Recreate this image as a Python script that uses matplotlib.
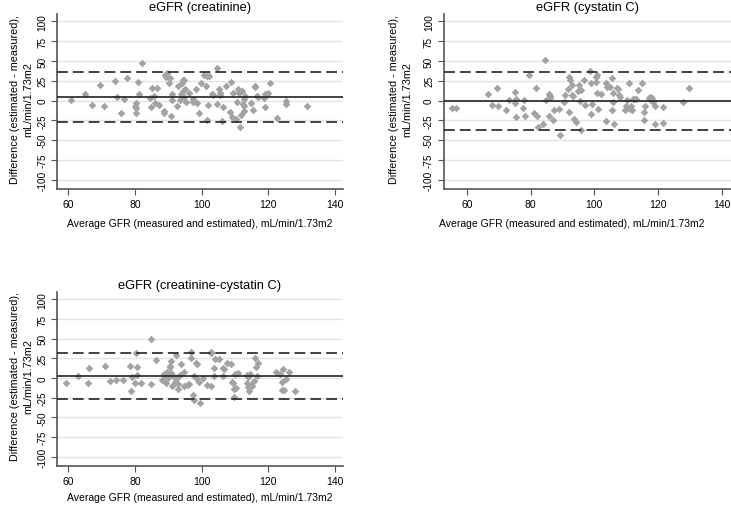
import matplotlib.pyplot as plt

plt.rcParams['font.family'] = ['Liberation Sans', 'DejaVu Sans']
plt.rcParams['axes.unicode_minus'] = False

# eGFR (creatinine): average GFR vs difference
x_cr = [60.7, 65.1, 67.2, 69.6, 70.7, 73.9, 74.5, 75.9, 76.7, 77.6,
        80.0, 80.2, 80.4, 80.3, 80.9, 81.3, 82.1, 84.4, 84.8, 85.1,
        85.6, 85.9, 86.7, 87.1, 88.7, 88.6, 89.0, 89.2, 89.5, 90.2,
        90.6, 90.8, 91.0, 91.2, 92.6, 92.9, 93.5, 93.8, 94.0, 94.3,
        94.4, 94.6, 94.8, 95.1, 95.2, 96.2, 97.3, 97.5, 98.3, 98.6,
        99.3, 99.9, 100.8, 101.4, 101.5, 101.6, 102.0, 102.1, 103.1, 103.5,
        104.6, 104.6, 105.1, 105.4, 105.6, 106.2, 106.5, 107.3, 108.4, 108.8,
        109.1, 109.3, 110.2, 110.5, 110.9, 111.2, 111.3, 111.6, 111.8, 112.1,
        112.3, 112.8, 112.8, 113.1, 112.8, 114.8, 115.5, 115.9, 116.0, 116.5,
        117.0, 118.8, 118.9, 119.0, 119.5, 119.9, 120.6, 122.6, 125.3, 125.3,
        131.7]
d_cr = [0.9, 7.8, -5.6, 20.3, -6.9, 24.6, 3.9, -15.9, 1.7, 28.9,
        -6.9, -9.0, -2.6, -15.9, 23.7, 8.2, 47.4, 3.4, -7.8, 16.4,
        6.0, -2.6, 16.4, -5.2, -12.9, -15.1, 32.8, 29.7, 35.3, 22.4,
        28.0, -19.4, 7.8, 0.9, -6.5, 18.5, 1.3, 7.8, 22.4, 25.4,
        11.6, 4.7, 26.3, 14.2, -1.3, 9.9, 1.7, -2.2, 14.7, -3.4,
        -15.5, 22.8, 32.8, 18.5, 31.5, -25.0, -5.2, 31.5, 8.2, 6.5,
        41.4, -4.3, 14.2, 9.9, 6.9, -26.3, -7.8, 18.5, -14.2, 23.3,
        -20.7, 9.5, -23.3, -1.7, 14.7, 9.5, 12.1, -33.6, -18.1, 11.6,
        -4.3, 2.2, -13.4, 5.6, -6.5, -3.4, -12.1, 19.0, 17.2, 5.6,
        3.9, 3.0, -8.2, 8.6, 7.8, 9.9, 22.4, -22.4, 0.0, -4.7,
        -6.5]

# eGFR (cystatin C)
x_cys = [55.3, 56.6, 66.5, 67.8, 69.4, 69.6, 72.2, 73.1, 75.1, 75.2,
         75.3, 75.5, 77.6, 78.0, 78.2, 79.6, 81.2, 81.8, 82.0, 82.3,
         83.8, 84.6, 84.7, 85.8, 86.0, 85.9, 86.2, 87.0, 87.3, 89.0,
         89.2, 90.5, 90.8, 91.6, 92.1, 92.1, 92.3, 92.9, 93.2, 93.1,
         93.6, 94.2, 95.0, 95.2, 95.7, 95.5, 95.9, 96.7, 97.2, 98.6,
         98.9, 99.1, 99.3, 100.5, 100.5, 100.8, 100.9, 101.2, 102.1, 103.6,
         103.8, 103.9, 104.9, 105.4, 105.5, 105.8, 105.9, 106.2, 107.1, 107.3,
         107.7, 108.1, 109.6, 109.9, 110.2, 110.9, 111.1, 111.6, 111.8, 112.2,
         112.4, 113.0, 113.8, 114.9, 115.5, 115.7, 115.9, 117.0, 117.4, 117.8,
         118.0, 118.2, 118.4, 119.0, 119.1, 121.5, 121.7, 127.8, 129.7]
d_cys = [-9.9, -9.9, 8.2, -5.6, 15.9, -7.3, -11.6, 0.9, 10.8, -3.4,
         -21.1, 1.7, -9.0, 0.9, -19.4, 31.9, -15.1, 15.9, -19.4, -33.6,
         -29.3, 50.9, 0.9, 8.2, 5.6, -19.8, 3.4, -24.6, -12.1, -10.8,
         -43.5, -1.7, 6.5, 15.1, -14.2, 29.3, 25.4, 6.5, 5.2, 20.3,
         -23.7, -26.7, 11.6, 19.8, 12.9, -0.9, -36.6, 25.9, -5.6, 37.5,
         22.0, -16.4, -4.7, 23.7, 29.7, 31.9, 9.0, -10.8, 8.6, -25.4,
         22.0, 17.2, 17.7, 28.0, -12.1, 9.9, -1.3, -29.7, 15.9, 15.1,
         6.5, 3.9, -12.1, -7.3, 0.9, 21.6, -10.8, -7.3, -12.1, 2.2,
         2.6, 2.2, 13.8, 21.6, -13.8, -25.0, -7.3, 3.4, 4.7, 1.3,
         3.0, 0.0, -2.2, -7.3, -30.2, -28.0, -7.8, -2.2, 15.9]

# eGFR (creatinine-cystatin C)
x_cc = [59.3, 62.9, 65.9, 66.2, 71.1, 72.6, 74.2, 76.4, 78.5, 78.8,
        79.2, 80.0, 80.4, 80.6, 80.6, 81.9, 84.7, 84.7, 86.4, 88.1,
        88.7, 88.8, 89.2, 89.5, 89.9, 90.4, 90.5, 90.7, 90.9, 91.0,
        91.3, 92.0, 92.3, 92.5, 92.9, 93.0, 93.6, 93.9, 94.8, 94.8,
        95.6, 96.1, 96.7, 96.7, 97.5, 97.6, 97.7, 98.2, 98.4, 98.7,
        99.3, 99.4, 100.5, 101.5, 102.7, 102.7, 102.9, 103.6, 103.8, 104.1,
        105.2, 106.4, 106.6, 106.4, 107.6, 108.7, 109.0, 109.3, 109.7, 109.8,
        110.1, 110.2, 110.8, 113.5, 113.6, 113.9, 114.0, 114.2, 114.5, 114.7,
        115.2, 115.7, 116.1, 116.4, 116.5, 117.0, 122.4, 123.5, 124.0, 124.0,
        124.3, 124.7, 125.4, 126.1, 127.9]
d_cc = [-6.5, 2.2, -6.0, 12.9, 15.5, -3.4, -3.0, -2.2, 15.5, -16.4,
        0.9, -6.0, 31.9, 13.8, 3.9, -6.5, 49.6, -8.2, 23.3, -3.0,
        3.9, 5.6, -6.5, 8.2, 0.0, 14.2, 15.9, 21.1, 6.0, -10.3,
        3.0, -5.2, 28.9, 0.0, -7.8, -13.4, 3.4, 17.7, 7.3, -9.5,
        -9.0, -7.8, 32.8, 25.0, -21.1, -28.4, 2.2, 0.4, 19.0, 17.2,
        -5.6, -31.5, 0.0, -9.0, -9.5, 33.6, 31.9, 12.9, 3.0, 24.1,
        24.1, 12.9, 12.1, 2.2, 19.0, 18.1, -4.7, -6.5, -24.6, -14.2,
        5.2, -12.1, 6.5, -6.5, 3.9, 1.3, -11.2, -15.9, 5.2, -9.0,
        -10.3, -4.3, 25.0, 13.8, 2.2, 19.4, 7.3, 5.2, -5.2, -15.1,
        11.6, -15.1, -1.3, 7.3, -15.9]

# mean difference and limits of agreement
mean_d = [4.7, 0.0, 2.6]
upper = [36.1, 36.6, 31.9]
lower = [-26.7, -36.6, -26.7]

titles = ['eGFR (creatinine)', 'eGFR (cystatin C)', 'eGFR (creatinine-cystatin C)']
xs = [x_cr, x_cys, x_cc]
ds = [d_cr, d_cys, d_cc]

fig = plt.figure(figsize=(7.31, 5.10), dpi=100)
rects = [[0.078, 0.627, 0.391, 0.343],
         [0.607, 0.627, 0.393, 0.343],
         [0.078, 0.084, 0.391, 0.341]]
xlims = [(56.6, 142.4), (52.7, 142.9), (56.6, 142.4)]
xlab_pos = [(0.5, -0.166), (0.446, -0.166), (0.5, -0.15)]
ylab_x = [-0.082, -0.110, -0.082]

for i in range(3):
    ax = fig.add_axes(rects[i])
    for yv in range(-100, 101, 25):
        ax.axhline(yv, color='#e3e3e3', lw=1, zorder=0)
    ax.scatter(xs[i], ds[i], marker='D', s=15, color='#a3a3a3', lw=0, zorder=2)
    ax.axhline(mean_d[i], color='#222222', lw=1.2, zorder=3)
    ax.axhline(upper[i], color='#222222', lw=1.2, ls=(0, (6.5, 3)), zorder=3)
    ax.axhline(lower[i], color='#222222', lw=1.2, ls=(0, (6.5, 3)), zorder=3)

    ax.set_xlim(xlims[i])
    ax.set_ylim(-112, 109)
    ax.set_xticks(range(60, 141, 20))
    ax.set_yticks(range(-100, 101, 25))
    ax.tick_params(axis='y', labelrotation=90, labelsize=7.2, length=4, pad=3, color='#555555')
    ax.tick_params(axis='x', labelsize=7.5, length=4, pad=3, color='#555555')
    for lab in ax.get_yticklabels():
        lab.set_va('center')
    ax.spines['top'].set_visible(False)
    ax.spines['right'].set_visible(False)
    ax.spines['left'].set_color('#555555')
    ax.spines['bottom'].set_color('#555555')
    ax.spines['left'].set_linewidth(1.2)
    ax.spines['bottom'].set_linewidth(1.2)

    ax.set_title(titles[i], fontsize=9.3, pad=3)
    ax.set_xlabel('Average GFR (measured and estimated), mL/min/1.73m2', fontsize=7.5)
    ax.xaxis.set_label_coords(*xlab_pos[i])
    ax.set_ylabel('Difference (estimated - measured),\nmL/min/1.73m2', fontsize=7.8,
                  linespacing=1.4)
    ax.yaxis.set_label_coords(ylab_x[i], 0.52)

plt.savefig('out.png', dpi=100)
